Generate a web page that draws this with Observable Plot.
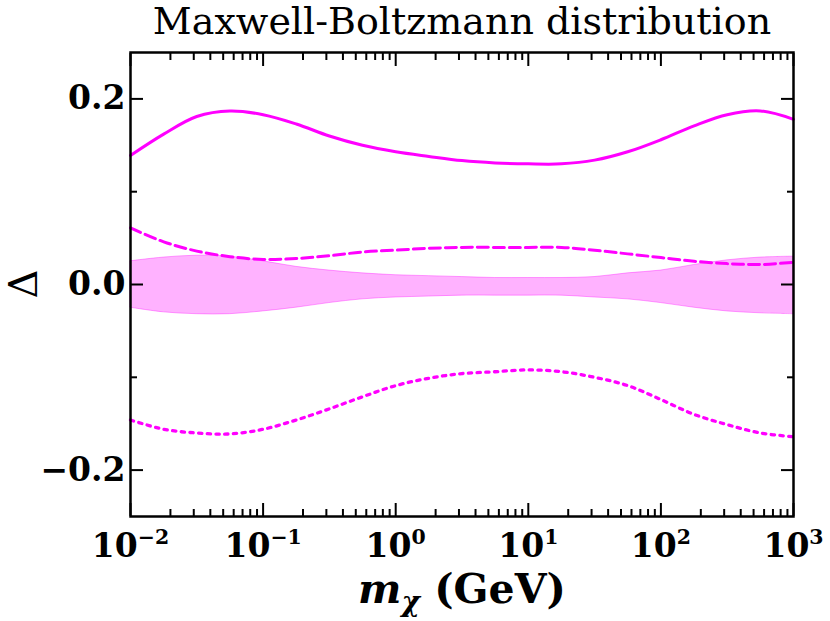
<!DOCTYPE html>
<html>
<head>
<meta charset="utf-8">
<script src="https://cdn.jsdelivr.net/npm/d3@7"></script>
<script src="https://cdn.jsdelivr.net/npm/@observablehq/plot@0.6"></script>
<style>
  body { margin: 0; background: #fff; }
  svg { display: block; }
</style>
</head>
<body>
<div id="myplot"></div>
<script>
// dark matter mass grid (GeV), quarter decades
const mass = [0.01, 0.0178, 0.0316, 0.0562, 0.1, 0.178, 0.316, 0.562, 1, 1.78, 3.16,
              5.62, 10, 17.8, 31.6, 56.2, 100, 178, 316, 562, 1000];

const upper = [0.139, 0.162, 0.181, 0.187, 0.183, 0.173, 0.160, 0.150, 0.143, 0.138, 0.1335,
               0.131, 0.130, 0.130, 0.134, 0.143, 0.156, 0.171, 0.183, 0.187, 0.178];
const mid = [0.061, 0.046, 0.036, 0.030, 0.027, 0.028, 0.031, 0.035, 0.037, 0.039, 0.040,
             0.040, 0.040, 0.040, 0.037, 0.033, 0.029, 0.025, 0.0225, 0.0215, 0.024];
const lower = [-0.146, -0.156, -0.160, -0.161, -0.156, -0.146, -0.134, -0.121, -0.109, -0.101, -0.096,
               -0.094, -0.092, -0.094, -0.100, -0.109, -0.124, -0.140, -0.151, -0.160, -0.164];
const bandHi = [0.025, 0.029, 0.031, 0.030, 0.025, 0.019, 0.015, 0.012, 0.010, 0.009, 0.008,
                0.007, 0.007, 0.007, 0.008, 0.012, 0.015, 0.021, 0.026, 0.029, 0.030];
const bandLo = [-0.025, -0.030, -0.032, -0.032, -0.029, -0.025, -0.020, -0.016, -0.014, -0.013, -0.012,
                -0.012, -0.012, -0.012, -0.014, -0.016, -0.020, -0.025, -0.029, -0.031, -0.032];

const xTicks = [1e-2, 1e-1, 1e0, 1e1, 1e2, 1e3];
const yTicks = [-0.2, 0, 0.2];
const yMinor = [-0.1, 0.1];
const xMinor = d3.range(-2, 3).flatMap(e => d3.range(2, 10).map(k => k * 10 ** e));

const rows = mass.map((m, i) => ({m, upper: upper[i], mid: mid[i], lower: lower[i], hi: bandHi[i], lo: bandLo[i]}));

const pink = "#ff00ff";
const curve = "catmull-rom";
const tick = {stroke: "black", strokeWidth: 2, label: null};

const plot = Plot.plot({
  width: 830,
  height: 621,
  marginTop: 52,
  marginLeft: 130,
  marginRight: 37,
  marginBottom: 105,
  style: {fontFamily: "DejaVu Serif", fontSize: "30px", fontWeight: "bold", color: "black", background: "white"},
  x: {type: "log", domain: [1e-2, 1e3]},
  y: {domain: [-0.25, 0.25]},
  marks: [
    Plot.areaY(rows, {x: "m", y1: "lo", y2: "hi", fill: pink, fillOpacity: 0.3, stroke: pink, strokeOpacity: 0.35, strokeWidth: 1, curve}),
    Plot.lineY(rows, {x: "m", y: "upper", stroke: pink, strokeWidth: 3, curve}),
    Plot.lineY(rows, {x: "m", y: "mid", stroke: pink, strokeWidth: 3, strokeDasharray: "11,5", curve}),
    Plot.lineY(rows, {x: "m", y: "lower", stroke: pink, strokeWidth: 3.3, strokeDasharray: "3.3,5.4", curve}),
    // inward ticks on all four sides
    Plot.axisX({...tick, ticks: xTicks, tickSize: -13, tickPadding: 30, fontSize: 33, tickFormat: d => "10^" + Math.round(Math.log10(d))}),
    Plot.axisX({...tick, ticks: xMinor, tickSize: -7, fill: "none"}),
    Plot.axisX({...tick, anchor: "top", ticks: xTicks, tickSize: -13, fill: "none"}),
    Plot.axisX({...tick, anchor: "top", ticks: xMinor, tickSize: -7, fill: "none"}),
    Plot.axisY({...tick, ticks: yTicks, tickSize: -13, tickPadding: 18, fontSize: 33, tickFormat: d3.format(".1f")}),
    Plot.axisY({...tick, ticks: yMinor, tickSize: -7, fill: "none"}),
    Plot.axisY({...tick, anchor: "right", ticks: yTicks, tickSize: -13, fill: "none"}),
    Plot.axisY({...tick, anchor: "right", ticks: yMinor, tickSize: -7, fill: "none"}),
    Plot.frame({stroke: "black", strokeWidth: 2.5})
  ]
});

const svg = d3.select(plot);

// exponents as superscripts
svg.selectAll('g[aria-label="x-axis tick label"] text').each(function() {
  const e = this.textContent.split("^")[1].replace("-", "\u2212");
  const t = d3.select(this);
  t.text("10");
  t.append("tspan").attr("dy", "-0.62em").attr("font-size", "0.62em").text(e);
});

svg.append("text")
  .attr("x", 462).attr("y", 34)
  .attr("text-anchor", "middle")
  .attr("font-weight", "normal")
  .attr("font-size", 38)
  .text("Maxwell-Boltzmann distribution");

const xl = svg.append("text")
  .attr("x", 462).attr("y", 603)
  .attr("text-anchor", "middle")
  .attr("font-size", 41)
  .attr("font-weight", "bold");
xl.append("tspan").attr("font-style", "italic").text("m");
xl.append("tspan").attr("font-style", "italic").attr("font-size", 28).attr("dy", 8).text("\u03c7");
xl.append("tspan").attr("dy", -8).text(" (GeV)");

svg.append("text")
  .attr("transform", "translate(23,284) rotate(-90)")
  .attr("text-anchor", "middle")
  .attr("dy", "0.36em")
  .attr("font-weight", "normal")
  .attr("font-size", 40)
  .text("\u0394");

document.querySelector("#myplot").append(plot);
</script>
</body>
</html>
